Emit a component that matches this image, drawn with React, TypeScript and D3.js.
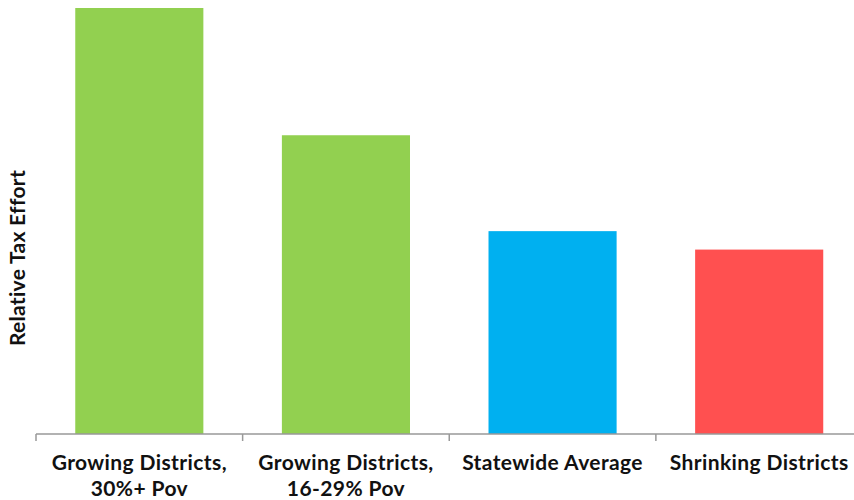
import React from "react";
import * as d3 from "d3";

const categories = ["Growing Districts,\n30%+ Pov", "Growing Districts,\n16-29% Pov", "Statewide Average", "Shrinking Districts"];
const values = [2.31, 1.62, 1.1, 1.0];
const colors = ["#92D050", "#92D050", "#00B0F0", "#FF5050"];
const yLabel = "Relative Tax Effort";

export default function App() {
  const W = 854, H = 500;
  const x0 = 36, x1 = 862.5, yBase = 434, yTop = 8;
  const x = d3.scaleBand<number>().domain(d3.range(categories.length)).range([x0, x1]).paddingInner(0.38).paddingOuter(0.19);
  const y = d3.scaleLinear().domain([0, values[0]]).range([yBase, yTop]);
  const step = x.step();
  const font = "Lato, 'Open Sans', sans-serif";
  return (
    <svg width={W} height={H} style={{ position: "absolute", left: 0, top: 0, background: "#fff" }}>
      {values.map((v, i) => (
        <rect key={i} x={x(i)} y={y(v)} width={x.bandwidth()} height={yBase - y(v)} fill={colors[i]} />
      ))}
      <line x1={x0} x2={W} y1={yBase} y2={yBase} stroke="#999" strokeWidth={1.5} />
      {d3.range(categories.length + 1).map((i) => (
        <line key={i} x1={x0 + i * step} x2={x0 + i * step} y1={yBase} y2={yBase + 7} stroke="#999" strokeWidth={1.5} />
      ))}
      {categories.map((c, i) => (
        <text key={i} x={x0 + (i + 0.5) * step} y={470} textAnchor="middle" fontFamily={font} fontWeight="bold" fontSize={21} letterSpacing={0.4} fill="#111">
          {c.split("\n").map((l, j) => (
            <tspan key={j} x={x0 + (i + 0.5) * step} dy={j === 0 ? 0 : 25.5}>{l}</tspan>
          ))}
        </text>
      ))}
      <text transform={`translate(25,258) rotate(-90)`} textAnchor="middle" fontFamily={font} fontWeight="bold" fontSize={21} letterSpacing={0.3} fill="#111">{yLabel}</text>
    </svg>
  );
}
